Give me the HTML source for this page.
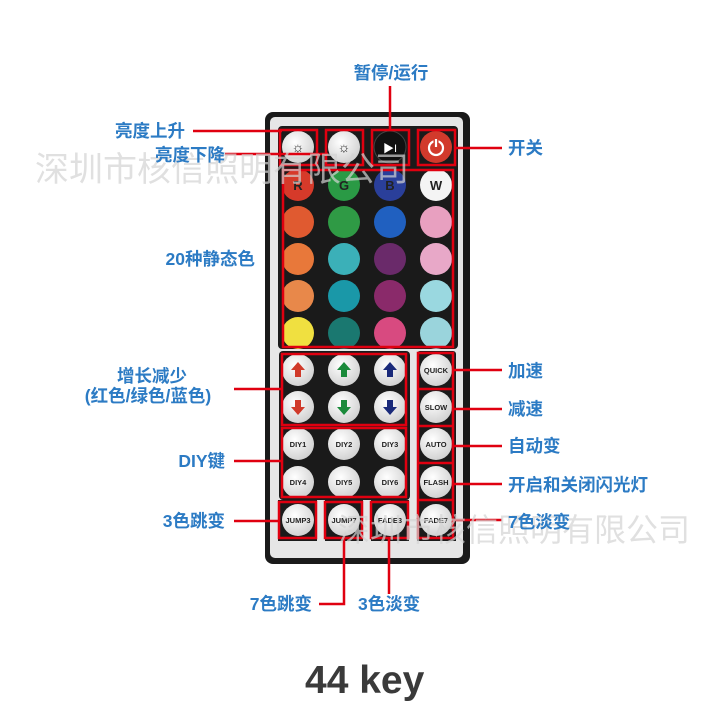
<!DOCTYPE html>
<html><head><meta charset="utf-8"><style>
body{margin:0;background:#fff;}
svg text{font-family:"Liberation Sans","Noto Sans CJK SC",sans-serif;}
.l{fill:#2c7bc4;font-weight:bold;font-size:17.5px;}
.e{text-anchor:end;}
.m{text-anchor:middle;}
.b{font-size:7.5px;font-weight:bold;fill:#222;text-anchor:middle;}
</style></head><body>
<svg width="720" height="720" viewBox="0 0 720 720" xmlns="http://www.w3.org/2000/svg">
<defs>
<radialGradient id="w" cx="0.4" cy="0.35" r="0.7"><stop offset="0" stop-color="#fff"/><stop offset="1" stop-color="#cfcfcf"/></radialGradient>
</defs>
<rect x="265" y="112" width="205" height="452" rx="8" fill="#1a1a1a"/>
<rect x="270" y="117" width="193" height="441" rx="5" fill="#e6e6e6"/>
<rect x="278" y="126" width="180" height="223" rx="4" fill="#1a1a1a"/>
<rect x="279" y="351" width="131" height="149" rx="4" fill="#1a1a1a"/>
<rect x="417" y="351" width="39" height="190" rx="3" fill="#1a1a1a"/>
<rect x="278" y="500" width="178" height="41" fill="#1a1a1a"/>
<rect x="317" y="500" width="8" height="41" fill="#e6e6e6"/>
<rect x="363" y="500" width="8" height="41" fill="#e6e6e6"/>
<rect x="409" y="500" width="8" height="41" fill="#e6e6e6"/>
<circle cx="298" cy="147" r="16" fill="url(#w)"/>
<circle cx="344" cy="147" r="16" fill="url(#w)"/>
<circle cx="390" cy="147" r="16" fill="#111" stroke="#444"/>
<circle cx="436" cy="147" r="16" fill="#d23a2c"/>
<text x="298" y="152" font-size="14" text-anchor="middle" fill="#222">☼</text>
<text x="344" y="152" font-size="14" text-anchor="middle" fill="#222">☼</text>
<text x="390" y="152" font-size="11" text-anchor="middle" fill="#fff">▶I</text>
<circle cx="436" cy="148" r="7" fill="none" stroke="#fff" stroke-width="2.2"/>
<line x1="436" y1="139" x2="436" y2="148" stroke="#d23a2c" stroke-width="5"/>
<line x1="436" y1="139" x2="436" y2="147" stroke="#fff" stroke-width="2.2"/>
<g>
<circle cx="298" cy="185" r="16" fill="#d63a2a"/><circle cx="344" cy="185" r="16" fill="#2a9a45"/><circle cx="390" cy="185" r="16" fill="#2a3f9a"/><circle cx="436" cy="185" r="16" fill="#f4f4f4"/>
<text x="298" y="190" font-size="13" font-weight="bold" text-anchor="middle" fill="#222">R</text>
<text x="344" y="190" font-size="13" font-weight="bold" text-anchor="middle" fill="#222">G</text>
<text x="390" y="190" font-size="13" font-weight="bold" text-anchor="middle" fill="#222">B</text>
<text x="436" y="190" font-size="13" font-weight="bold" text-anchor="middle" fill="#222">W</text>
<circle cx="298" cy="222" r="16" fill="#e05a30"/><circle cx="344" cy="222" r="16" fill="#2f9a45"/><circle cx="390" cy="222" r="16" fill="#2060c0"/><circle cx="436" cy="222" r="16" fill="#e8a0c0"/>
<circle cx="298" cy="259" r="16" fill="#e8783a"/><circle cx="344" cy="259" r="16" fill="#3bb0b8"/><circle cx="390" cy="259" r="16" fill="#6a2a6a"/><circle cx="436" cy="259" r="16" fill="#e8a8c8"/>
<circle cx="298" cy="296" r="16" fill="#e8884a"/><circle cx="344" cy="296" r="16" fill="#1a98a8"/><circle cx="390" cy="296" r="16" fill="#8a2a6a"/><circle cx="436" cy="296" r="16" fill="#9ad8e0"/>
<circle cx="298" cy="333" r="16" fill="#f0e040"/><circle cx="344" cy="333" r="16" fill="#1a7870"/><circle cx="390" cy="333" r="16" fill="#d84a80"/><circle cx="436" cy="333" r="16" fill="#9ad4dc"/>
</g>
<g>
<circle cx="298" cy="370" r="16" fill="url(#w)"/><circle cx="344" cy="370" r="16" fill="url(#w)"/><circle cx="390" cy="370" r="16" fill="url(#w)"/>
<circle cx="298" cy="407" r="16" fill="url(#w)"/><circle cx="344" cy="407" r="16" fill="url(#w)"/><circle cx="390" cy="407" r="16" fill="url(#w)"/>
<path d="M298 362 l-7 8 h4 v7 h6 v-7 h4z" fill="#d03a2a"/>
<path d="M344 362 l-7 8 h4 v7 h6 v-7 h4z" fill="#1a8a3a"/>
<path d="M390 362 l-7 8 h4 v7 h6 v-7 h4z" fill="#1a2a7a"/>
<path d="M298 415 l-7 -8 h4 v-7 h6 v7 h4z" fill="#d03a2a"/>
<path d="M344 415 l-7 -8 h4 v-7 h6 v7 h4z" fill="#1a8a3a"/>
<path d="M390 415 l-7 -8 h4 v-7 h6 v7 h4z" fill="#1a2a7a"/>
</g>
<g>
<circle cx="298" cy="444" r="16" fill="url(#w)"/><circle cx="344" cy="444" r="16" fill="url(#w)"/><circle cx="390" cy="444" r="16" fill="url(#w)"/>
<circle cx="298" cy="482" r="16" fill="url(#w)"/><circle cx="344" cy="482" r="16" fill="url(#w)"/><circle cx="390" cy="482" r="16" fill="url(#w)"/>
<text class="b" x="298" y="447">DIY1</text><text class="b" x="344" y="447">DIY2</text><text class="b" x="390" y="447">DIY3</text>
<text class="b" x="298" y="485">DIY4</text><text class="b" x="344" y="485">DIY5</text><text class="b" x="390" y="485">DIY6</text>
<circle cx="436" cy="370" r="16" fill="url(#w)"/><circle cx="436" cy="407" r="16" fill="url(#w)"/><circle cx="436" cy="444" r="16" fill="url(#w)"/><circle cx="436" cy="482" r="16" fill="url(#w)"/><circle cx="436" cy="520" r="16" fill="url(#w)"/>
<text class="b" x="436" y="373" font-size="7">QUICK</text><text class="b" x="436" y="410">SLOW</text><text class="b" x="436" y="447">AUTO</text><text class="b" x="436" y="485">FLASH</text><text class="b" x="436" y="523" font-size="7">FADE7</text>
<circle cx="298" cy="520" r="16" fill="url(#w)"/><circle cx="344" cy="520" r="16" fill="url(#w)"/><circle cx="390" cy="520" r="16" fill="url(#w)"/>
<text class="b" x="298" y="523" font-size="7">JUMP3</text><text class="b" x="344" y="523" font-size="7">JUMP7</text><text class="b" x="390" y="523" font-size="7">FADE3</text>
</g>
<g fill="none" stroke="#e00010" stroke-width="2.5">
<rect x="280" y="130" width="37" height="35"/><rect x="326" y="130" width="37" height="35"/><rect x="372" y="130" width="37" height="35"/><rect x="418" y="130" width="37" height="35"/>
<rect x="283" y="170" width="170" height="177"/>
<rect x="282" y="354" width="124" height="71"/>
<rect x="282" y="428" width="124" height="69"/>
<rect x="418" y="353" width="35" height="185"/>
<line x1="418" y1="389" x2="453" y2="389"/><line x1="418" y1="426" x2="453" y2="426"/><line x1="418" y1="463" x2="453" y2="463"/><line x1="418" y1="500" x2="453" y2="500"/>
<rect x="279" y="502" width="37" height="36"/><rect x="325" y="502" width="37" height="36"/><rect x="371" y="502" width="37" height="36"/>
</g>
<g stroke="#e00010" stroke-width="2.5" fill="none">
<line x1="193" y1="131" x2="282" y2="131"/>
<line x1="225" y1="154" x2="328" y2="154"/>
<line x1="390" y1="86" x2="390" y2="131"/>
<line x1="455" y1="148" x2="502" y2="148"/>
<line x1="234" y1="389" x2="283" y2="389"/>
<line x1="234" y1="461" x2="283" y2="461"/>
<line x1="234" y1="521" x2="280" y2="521"/>
<line x1="453" y1="370" x2="502" y2="370"/>
<line x1="453" y1="409" x2="502" y2="409"/>
<line x1="453" y1="446" x2="502" y2="446"/>
<line x1="453" y1="484" x2="502" y2="484"/>
<line x1="453" y1="520" x2="502" y2="520"/>
<polyline points="344,538 344,604 319,604"/>
<line x1="389" y1="538" x2="389" y2="594"/>
</g>
<text x="35" y="181" font-size="34" fill="#d4d4d4" opacity="0.7">深圳市核信照明有限公司</text>
<text x="338" y="541" font-size="32" fill="#d4d4d4" opacity="0.7">深圳市核信照明有限公司</text>
<text class="l e" x="185" y="137">亮度上升</text>
<text class="l e" x="225" y="161">亮度下降</text>
<text class="l m" x="391" y="79">暂停/运行</text>
<text class="l" x="508" y="154">开关</text>
<text class="l e" x="255" y="265">20种静态色</text>
<text class="l m" x="152" y="382">增长减少</text>
<text class="l m" x="148" y="402">(红色/绿色/蓝色)</text>
<text class="l e" x="225" y="467">DIY键</text>
<text class="l e" x="225" y="527">3色跳变</text>
<text class="l" x="508" y="377">加速</text>
<text class="l" x="508" y="415">减速</text>
<text class="l" x="508" y="452">自动变</text>
<text class="l" x="508" y="491">开启和关闭闪光灯</text>
<text class="l" x="508" y="528">7色淡变</text>
<text class="l e" x="312" y="610">7色跳变</text>
<text class="l" x="358" y="610">3色淡变</text>
<text x="305" y="693" font-size="39" font-weight="bold" fill="#3a3a3a">44 key</text>
</svg>
</body></html>
